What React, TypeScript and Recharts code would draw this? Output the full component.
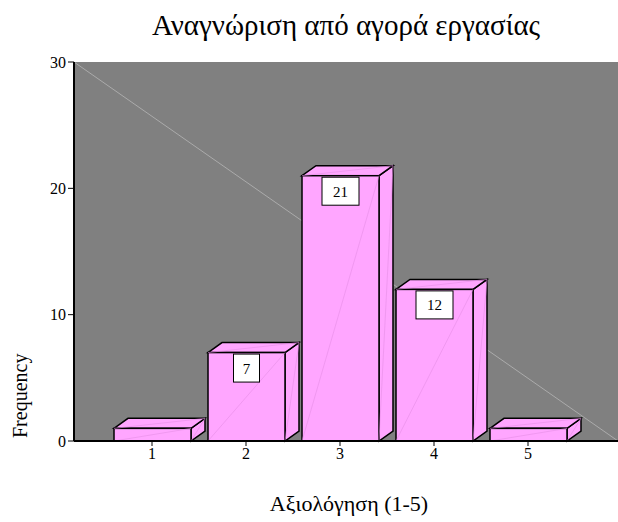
import { Bar, BarChart, LabelList, XAxis, YAxis } from "recharts";

const ratings = ["1", "2", "3", "4", "5"];
const frequencies = [1, 7, 21, 12, 1];
const yTicks = [0, 10, 20, 30];

const data = ratings.map((r, i) => ({ rating: r, count: frequencies[i] }));

const W = 618;
const H = 522;
// plot area: left 74, top 62, bottom 441
const PLOT = { left: 74, top: 62, bottom: 81 };
const X_AXIS_H = 30;
const SERIF = "'Times New Roman', 'Liberation Serif', 'DejaVu Serif', serif";
const PINK = "#FFA6FF";
const DX = 14;
const DY = 10;

function Box3D(props: any) {
  const { x, y, width, height } = props;
  if (width == null || height == null) return null;
  const r = x + width;
  const b = y + height;
  return (
    <g>
      <path
        d={`M${r},${y} L${r + DX},${y - DY} L${r + DX},${b - DY} L${r},${b} Z`}
        fill={PINK}
        stroke="#000"
        strokeWidth={1.5}
      />
      <path
        d={`M${x},${y} L${x + DX},${y - DY} L${r + DX},${y - DY} L${r},${y} Z`}
        fill={PINK}
        stroke="#000"
        strokeWidth={1.5}
      />
      <rect x={x} y={y} width={width} height={height} fill={PINK} stroke="#000" strokeWidth={1.5} />
      <line x1={x} y1={b} x2={r} y2={y} stroke="#e58ee5" strokeWidth={0.6} />
      <line x1={r} y1={b} x2={r + DX} y2={y - DY} stroke="#e58ee5" strokeWidth={0.6} />
      <line x1={x} y1={y} x2={r + DX} y2={y - DY} stroke="#e58ee5" strokeWidth={0.6} />
    </g>
  );
}

function ValueBox(props: any) {
  const { x, y, width, value } = props;
  if (value < 5) return null;
  const label = String(value);
  const bw = label.length > 1 ? 37 : 26;
  const cx = x + width / 2;
  return (
    <g>
      <rect x={cx - bw / 2} y={y + 1.5} width={bw} height={28} fill="#fff" stroke="#000" strokeWidth={1} />
      <text x={cx} y={y + 21} textAnchor="middle" fontFamily={SERIF} fontSize={15} fill="#000">
        {label}
      </text>
    </g>
  );
}

export default function App() {
  const pw = W - PLOT.left;
  const ph = H - PLOT.top - PLOT.bottom;
  return (
    <div style={{ position: "absolute", left: 0, top: 0, width: W, height: H, background: "#fff" }}>
      <svg width={W} height={H} style={{ position: "absolute", left: 0, top: 0 }}>
        <rect x={PLOT.left} y={PLOT.top} width={pw} height={ph} fill="#808080" />
        <line
          x1={PLOT.left}
          y1={PLOT.top}
          x2={PLOT.left + pw}
          y2={PLOT.top + ph}
          stroke="#bdbdbd"
          strokeWidth={0.7}
        />
        <text x={346} y={35} textAnchor="middle" fontFamily={SERIF} fontSize={29} fill="#000">
          Αναγνώριση από αγορά εργασίας
        </text>
        <text x={349} y={511} textAnchor="middle" fontFamily={SERIF} fontSize={22} fill="#000">
          Αξιολόγηση (1-5)
        </text>
        <text
          x={0}
          y={0}
          transform="translate(27,438) rotate(-90)"
          textAnchor="start"
          fontFamily={SERIF}
          fontSize={20}
          fill="#000"
        >
          Frequency
        </text>
      </svg>
      <div style={{ position: "absolute", left: 0, top: 0 }}>
        <BarChart
          width={W}
          height={H}
          data={data}
          margin={{ top: PLOT.top, right: 0, left: 0, bottom: PLOT.bottom - X_AXIS_H }}
        >
          <XAxis
            dataKey="rating"
            height={X_AXIS_H}
            padding={{ left: 31, right: 43 }}
            axisLine={{ stroke: "#000", strokeWidth: 2 }}
            tickLine={{ stroke: "#000" }}
            tickSize={5}
            tick={{ fill: "#000", fontFamily: SERIF, fontSize: 16 }}
          />
          <YAxis
            domain={[0, 30]}
            ticks={yTicks}
            width={PLOT.left}
            axisLine={{ stroke: "#000", strokeWidth: 2 }}
            tickLine={{ stroke: "#000" }}
            tickSize={6}
            tick={{ fill: "#000", fontFamily: SERIF, fontSize: 16 }}
          />
          <Bar dataKey="count" barSize={77} shape={<Box3D />} isAnimationActive={false}>
            <LabelList dataKey="count" content={<ValueBox />} />
          </Bar>
        </BarChart>
      </div>
    </div>
  );
}
